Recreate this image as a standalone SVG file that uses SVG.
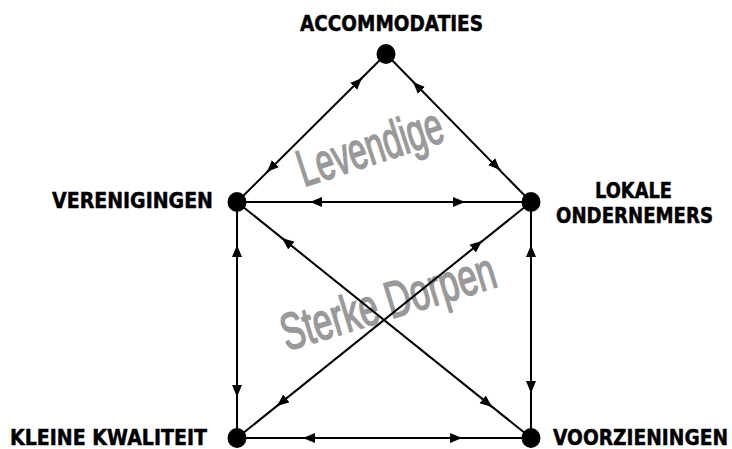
<svg xmlns="http://www.w3.org/2000/svg" width="732" height="449" viewBox="0 0 732 449">
<style>
.lbl{font-family:"DejaVu Sans","Liberation Sans",sans-serif;font-weight:bold;font-size:21px;fill:#000;stroke:#000;stroke-width:0.5}
.wm{font-family:"Liberation Sans",Arial,sans-serif;font-size:52px;fill:#999;stroke:#999;stroke-width:1.6}
.edge{stroke:#000;stroke-width:2;fill:none}
.ah{stroke:#000;stroke-width:2;fill:none;marker-end:url(#arrow)}
.dot{fill:#000}
</style>
<defs>
<marker id="arrow" markerUnits="userSpaceOnUse" markerWidth="14" markerHeight="11" refX="12" refY="5" orient="auto">
<path d="M0,0 L12,5 L0,10 Z" fill="#000"/>
</marker>
</defs>
<rect width="732" height="449" fill="#fff"/>
<g id="watermarks">
<text class="wm" x="304" y="187" textLength="150" lengthAdjust="spacingAndGlyphs" transform="rotate(-18 304 187)">Levendige</text>
<text class="wm" x="287" y="351" textLength="222" lengthAdjust="spacingAndGlyphs" transform="rotate(-17 287 351)">Sterke Dorpen</text>
</g>
<g id="connectors">
<line class="edge" x1="386" y1="54" x2="237" y2="202"/>
<path class="ah" d="M354,86 L362,78"/>
<path class="ah" d="M275,164 L267,172"/>
<line class="edge" x1="386" y1="54" x2="531" y2="202"/>
<path class="ah" d="M421,90 L413,82"/>
<path class="ah" d="M492,162 L500,170"/>
<line class="edge" x1="237" y1="202" x2="531" y2="202"/>
<path class="ah" d="M320,202 L310,202"/>
<path class="ah" d="M455,202 L465,202"/>
<line class="edge" x1="237" y1="202" x2="237" y2="438"/>
<path class="ah" d="M237,255 L237,245"/>
<path class="ah" d="M237,387 L237,397"/>
<line class="edge" x1="531" y1="202" x2="531" y2="438"/>
<path class="ah" d="M531,255 L531,245"/>
<path class="ah" d="M531,383 L531,393"/>
<line class="edge" x1="237" y1="202" x2="531" y2="438"/>
<path class="ah" d="M290,244.5 L282,238"/>
<path class="ah" d="M484,400.5 L492,407"/>
<line class="edge" x1="531" y1="202" x2="237" y2="438"/>
<path class="ah" d="M474,247.5 L482,241"/>
<path class="ah" d="M285,399.5 L277,406"/>
<line class="edge" x1="237" y1="438" x2="531" y2="438"/>
<path class="ah" d="M313,438 L303,438"/>
<path class="ah" d="M452,438 L462,438"/>
</g>
<g id="accommodaties">
<ellipse class="dot" cx="386" cy="54" rx="9.5" ry="10"/>
<text class="lbl" x="300" y="31" textLength="183" lengthAdjust="spacingAndGlyphs">ACCOMMODATIES</text>
</g>
<g id="verenigingen">
<ellipse class="dot" cx="237" cy="202" rx="9.5" ry="10"/>
<text class="lbl" x="52" y="208" textLength="161" lengthAdjust="spacingAndGlyphs">VERENIGINGEN</text>
</g>
<g id="lokale-ondernemers">
<ellipse class="dot" cx="531" cy="202" rx="9.5" ry="10"/>
<text class="lbl" x="595" y="198" textLength="77" lengthAdjust="spacingAndGlyphs">LOKALE</text>
<text class="lbl" x="556" y="223" textLength="157" lengthAdjust="spacingAndGlyphs">ONDERNEMERS</text>
</g>
<g id="kleine-kwaliteit">
<ellipse class="dot" cx="237" cy="438" rx="9.5" ry="10"/>
<text class="lbl" x="10" y="445" textLength="197" lengthAdjust="spacingAndGlyphs">KLEINE KWALITEIT</text>
</g>
<g id="voorzieningen">
<ellipse class="dot" cx="531" cy="438" rx="9.5" ry="10"/>
<text class="lbl" x="553" y="445" textLength="175" lengthAdjust="spacingAndGlyphs">VOORZIENINGEN</text>
</g>
</svg>
